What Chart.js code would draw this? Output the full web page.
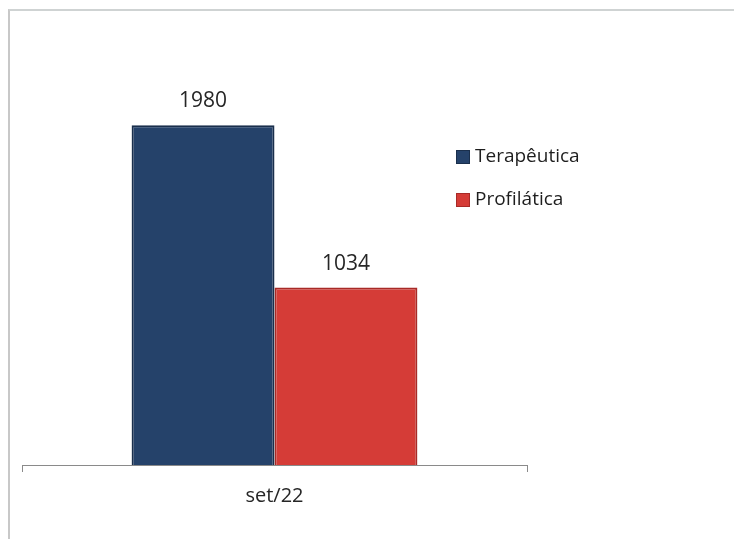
<!DOCTYPE html>
<html>
<head>
<meta charset="utf-8">
<script src="https://cdn.jsdelivr.net/npm/chart.js@4.4.0/dist/chart.umd.min.js"></script>
<style>
    html, body { margin: 0; padding: 0; background: #fff; }
    #wrap {
        position: absolute; left: 8px; top: 9px; width: 726px; height: 530px;
        border-top: 2px solid #cfd3d3; border-left: 2px solid #c8c8c8;
        box-sizing: border-box;
    }
    #chart { position: absolute; left: 0; top: 0; }
</style>
</head>
<body>
<div id="wrap"><canvas id="chart" width="724" height="528"></canvas></div>
<script>
// Dados do gráfico
const categorias = ['set/22'];
const terapeutica = [1980];
const profilatica = [1034];
const nomesSeries = ['Terapêutica', 'Profilática'];
const coresSeries = ['#25426a', '#d53c37'];
const bordasSeries = ['#1a2f4c', '#a82a27'];

document.addEventListener('DOMContentLoaded', function () {
    const fonte = "'Open Sans', 'DejaVu Sans', sans-serif";

    // rótulos acima das barras
    const rotulos = {
        id: 'rotulos',
        afterDatasetsDraw(chart) {
            const ctx = chart.ctx;
            ctx.save();
            ctx.fillStyle = '#262626';
            ctx.font = '21px ' + fonte;
            ctx.textAlign = 'center';
            ctx.textBaseline = 'alphabetic';
            chart.data.datasets.forEach(function (ds, i) {
                chart.getDatasetMeta(i).data.forEach(function (bar, j) {
                    ctx.fillText(String(ds.data[j]), bar.x, bar.y - 18);
                });
            });
            ctx.restore();
        }
    };

    // legenda posicionada à direita, sobre a área
    const legenda = {
        id: 'legenda',
        afterDraw(chart) {
            const ctx = chart.ctx;
            ctx.save();
            ctx.font = '19px ' + fonte;
            ctx.textBaseline = 'middle';
            chart.data.datasets.forEach(function (ds, i) {
                const y = 146 + i * 43;
                ctx.fillStyle = bordasSeries[i];
                ctx.fillRect(446, y - 7, 14, 14);
                ctx.fillStyle = coresSeries[i];
                ctx.fillRect(447, y - 6, 12, 12);
                ctx.fillStyle = '#1e1e1e';
                ctx.fillText(ds.label, 465, y);
            });
            ctx.restore();
        }
    };

    new Chart(document.getElementById('chart'), {
        type: 'bar',
        data: {
            labels: categorias,
            datasets: [{
                label: nomesSeries[0],
                data: terapeutica,
                backgroundColor: coresSeries[0],
                borderColor: bordasSeries[0],
                borderWidth: 2
            }, {
                label: nomesSeries[1],
                data: profilatica,
                backgroundColor: coresSeries[1],
                borderColor: bordasSeries[1],
                borderWidth: 2
            }]
        },
        options: {
            responsive: false,
            animation: false,
            layout: { padding: { left: 12, right: 207, top: 25, bottom: 19 } },
            plugins: {
                legend: { display: false },
                tooltip: { enabled: false }
            },
            datasets: {
                bar: { categoryPercentage: 0.566, barPercentage: 1 }
            },
            scales: {
                x: {
                    grid: {
                        display: true, drawOnChartArea: false, drawTicks: true,
                        tickLength: 7, color: '#8a8a8a', offset: true
                    },
                    border: { display: true, color: '#8a8a8a', width: 1 },
                    ticks: {
                        color: '#262626', padding: 12,
                        font: { family: fonte, size: 20 }
                    }
                },
                y: {
                    display: false,
                    min: 0,
                    max: 2500
                }
            }
        },
        plugins: [rotulos, legenda]
    });
});
</script>
</body>
</html>
